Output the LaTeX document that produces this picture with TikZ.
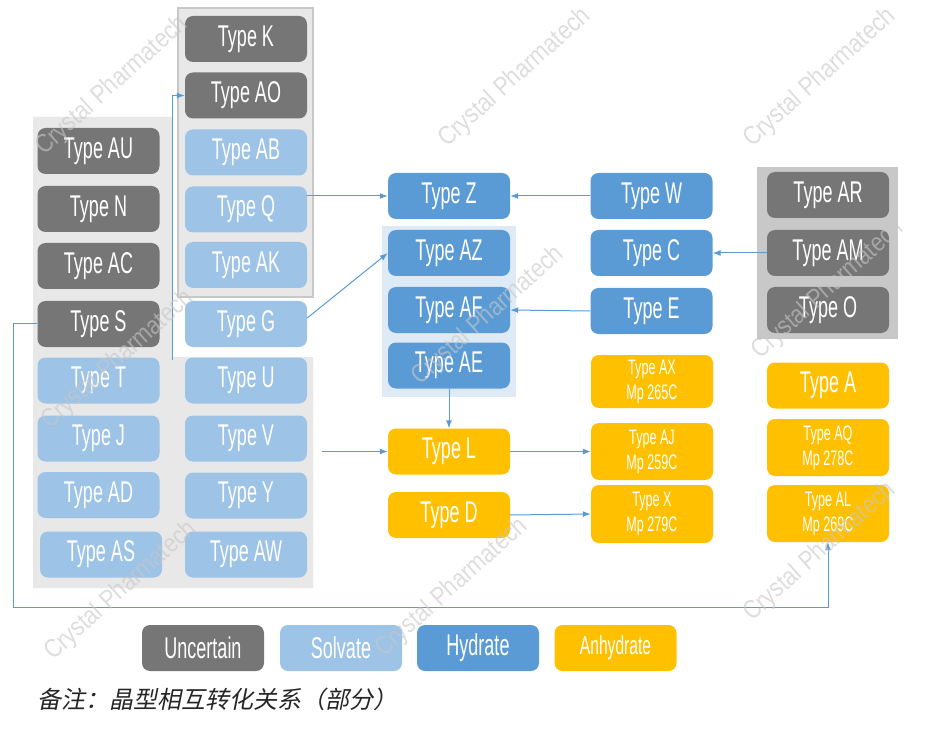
\documentclass[tikz,border=0pt]{standalone}
\usepackage{fontspec}
\usepackage{tikz}
\usetikzlibrary{arrows.meta}
\newfontfamily\agency[FakeStretch=0.6]{Liberation Sans}
\newfontfamily\markfont[FakeStretch=0.85]{Liberation Sans}
\newfontfamily\cjk[FakeSlant=0.2]{Noto Sans CJK SC}
\definecolor{formGray}{RGB}{118, 118, 118}
\definecolor{formSolv}{RGB}{157, 195, 230}
\definecolor{formHyd}{RGB}{91, 155, 213}
\definecolor{formAnh}{RGB}{255, 192, 0}
\definecolor{panelGray}{RGB}{232, 232, 232}
\definecolor{panelDark}{RGB}{200, 200, 200}
\definecolor{panelBlue}{RGB}{222, 235, 247}
\definecolor{linkBlue}{RGB}{91, 155, 213}

\begin{document}
\begin{tikzpicture}[x=1pt, y=-1pt,
    formbox/.style={rounded corners=8pt, minimum width=122pt, minimum height=46pt, inner sep=0pt, text=white, font=\agency\fontsize{30}{32}\selectfont},
    uncbox/.style={formbox, fill=formGray},
    solvbox/.style={formbox, fill=formSolv},
    hydbox/.style={formbox, fill=formHyd},
    anhbox/.style={formbox, fill=formAnh},
    mpbox/.style={anhbox, minimum height=57pt, align=center, font=\agency\fontsize{21}{25}\selectfont},
    link/.style={linkBlue, line width=1pt, -{Latex[length=8pt, width=6pt]}},
    wmark/.style={rotate=42, text=black!22, opacity=0.6, font=\markfont\fontsize{26}{28}\selectfont}]
        \useasboundingbox (0,0) rectangle (937,735);
        \fill[panelGray] (33,117) -- (173,117) -- (173,357) -- (313,357) -- (313,588) -- (33,588) -- cycle;
        \filldraw[fill=panelGray, draw=panelDark, line width=1.5pt] (178,8) rectangle (313,297);
        \fill[panelBlue] (382,226) rectangle (516,397);
        \fill[panelDark] (757,167) rectangle (898,339);

        \node[uncbox] (typeAU) at (98.5,151) {Type AU};
        \node[uncbox] (typeN) at (98.5,209) {Type N};
        \node[uncbox] (typeAC) at (98.5,266) {Type AC};
        \node[uncbox] (typeS) at (98.5,324) {Type S};
        \node[solvbox] (typeT) at (98.5,380.5) {Type T};
        \node[solvbox] (typeJ) at (98.5,438.5) {Type J};
        \node[solvbox] (typeAD) at (98.5,495) {Type AD};
        \node[solvbox] (typeAS) at (101,554.5) {Type AS};

        \node[uncbox] (typeK) at (246,39) {Type K};
        \node[uncbox] (typeAO) at (246,95.5) {Type AO};
        \node[solvbox] (typeAB) at (246,152.5) {Type AB};
        \node[solvbox] (typeQ) at (246,209.5) {Type Q};
        \node[solvbox] (typeAK) at (246,265) {Type AK};
        \node[solvbox] (typeG) at (246,324) {Type G};
        \node[solvbox] (typeU) at (246,380.5) {Type U};
        \node[solvbox] (typeV) at (246,438.5) {Type V};
        \node[solvbox] (typeY) at (246,495.5) {Type Y};
        \node[solvbox] (typeAW) at (246,554.5) {Type AW};

        \node[hydbox] (typeZ) at (449,196) {Type Z};
        \node[hydbox] (typeAZ) at (449,253) {Type AZ};
        \node[hydbox] (typeAF) at (449,310) {Type AF};
        \node[hydbox] (typeAE) at (449,365.5) {Type AE};
        \node[anhbox] (typeL) at (449,451.5) {Type L};
        \node[anhbox] (typeD) at (449,515) {Type D};

        \node[hydbox] (typeW) at (651.5,196) {Type W};
        \node[hydbox] (typeC) at (651.5,253) {Type C};
        \node[hydbox] (typeE) at (651.5,311) {Type E};
        \node[mpbox, minimum height=53pt] (typeAX) at (652,381.5) {Type AX\\Mp 265C};
        \node[mpbox] (typeAJ) at (652,451.5) {Type AJ\\Mp 259C};
        \node[mpbox, minimum height=58pt] (typeX) at (652,514) {Type X\\Mp 279C};

        \node[uncbox] (typeAR) at (828,195) {Type AR};
        \node[uncbox] (typeAM) at (828,253) {Type AM};
        \node[uncbox] (typeO) at (828,310) {Type O};
        \node[anhbox] (typeA) at (828,385.5) {Type A};
        \node[mpbox] (typeAQ) at (828,447.5) {Type AQ\\Mp 278C};
        \node[mpbox] (typeAL) at (828,513.5) {Type AL\\Mp 269C};

        \coordinate (leftGroup) at (172,360);
        \coordinate (lowGroup) at (322,451.5);
        \draw[link] (leftGroup) |- (typeAO.west);
        \draw[link] (typeQ.east |- typeZ.west) -- (typeZ.west);
        \draw[link] ([yshift=6pt]typeG.east) -- (typeAZ.west);
        \draw[link] (typeW.west) -- (typeZ.east);
        \draw[link] (typeAM.west) -- (typeC.east);
        \draw[link] (typeE.west) -- (typeAF.east);
        \draw[link] (typeAE.south) -- (typeL.north);
        \draw[link] (lowGroup) -- (typeL.west);
        \draw[link] (typeL.east) -- (typeAJ.west);
        \draw[link] (typeD.east) -- (typeX.west);
        \draw[link] (typeS.west) -| (13,607) -| (typeAL.south);

        \node[uncbox] (keyUnc) at (203,648) {Uncertain};
        \node[solvbox] (keySolv) at (341,648) {Solvate};
        \node[hydbox] (keyHyd) at (478,648) {Hydrate};
        \node[anhbox, font=\agency\fontsize{26}{28}\selectfont] (keyAnh) at (615.5,648) {Anhydrate};
        \node[anchor=west, inner sep=0pt, text=black!85, font=\cjk\fontsize{24}{26}\selectfont] (note) at (37,699) {备注：晶型相互转化关系（部分）};

        \foreach \wx/\wy [count=\i] in {112/86, 515/78, 820/78, 118/360, 488/316, 828/290, 121/591, 452/588, 820/552}
            \node[wmark] (mark\i) at (\wx,\wy) {Crystal Pharmatech};
      \end{tikzpicture}
\end{document}
